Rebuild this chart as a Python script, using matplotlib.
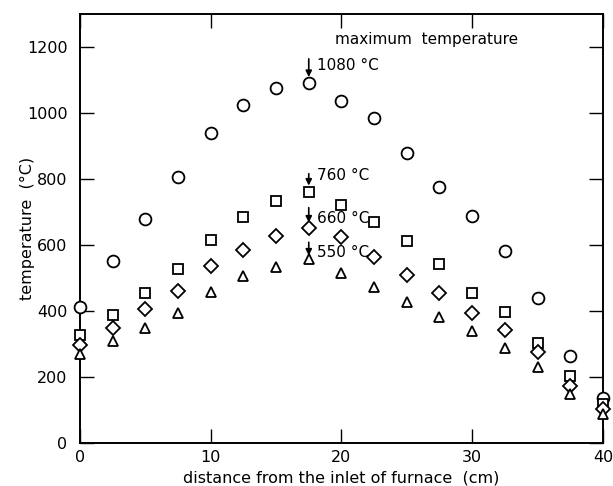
import matplotlib
matplotlib.use("Agg")
import matplotlib.pyplot as plt

# distance from furnace inlet (cm)
distance = [0, 2.5, 5, 7.5, 10, 12.5, 15, 17.5, 20, 22.5, 25, 27.5, 30, 32.5, 35, 37.5, 40]

# temperature profiles (deg C) for four maximum temperatures
temp_1080 = [411, 551, 679, 807, 938, 1024, 1075, 1092, 1037, 984, 878, 775, 687, 581, 440, 263, 135]
temp_760 = [326, 389, 454, 528, 616, 686, 734, 760, 722, 671, 611, 543, 454, 397, 304, 202, 118]
temp_660 = [296, 347, 405, 462, 535, 585, 628, 651, 623, 563, 508, 454, 394, 341, 276, 173, 102]
temp_550 = [269, 310, 348, 394, 457, 505, 533, 558, 516, 473, 427, 382, 339, 289, 231, 148, 87]

peak_labels = ["1080 °C", "760 °C", "660 °C", "550 °C"]
label_y = [1143, 810, 680, 577]
arrow_tail = [1164, 816, 713, 608]
arrow_tip = [1109, 780, 668, 568]
peak_x = 17.5

fig = plt.figure(figsize=(6.13, 4.86), dpi=100)
ax = fig.add_axes([0.1305, 0.0885, 0.853, 0.8827])

series = [(temp_1080, "o", 8.5), (temp_760, "s", 7.5), (temp_660, "D", 6.8), (temp_550, "^", 7.5)]
for vals, mk, ms in series:
    ax.plot(distance, vals, linestyle="none", marker=mk, markersize=ms,
            markerfacecolor="white", markeredgecolor="black", markeredgewidth=1.3,
            clip_on=False, zorder=5)

for lab, ly, tail, tip in zip(peak_labels, label_y, arrow_tail, arrow_tip):
    ax.annotate("", xy=(peak_x, tip), xytext=(peak_x, tail),
                arrowprops=dict(arrowstyle="-|>", color="black", lw=1.2,
                                mutation_scale=9, shrinkA=0, shrinkB=0), zorder=6)
    ax.text(peak_x + 0.65, ly, lab, fontsize=11, ha="left", va="center")

ax.text(19.5, 1224, "maximum  temperature", fontsize=11, ha="left", va="center")

ax.set_xlim(0, 40)
ax.set_ylim(0, 1300)
ax.set_xticks([0, 10, 20, 30, 40])
ax.set_yticks([0, 200, 400, 600, 800, 1000, 1200])
ax.tick_params(direction="in", length=10, width=1, labelsize=11.5,
               top=True, right=True)
ax.tick_params(axis="y", pad=9)
ax.tick_params(axis="x", pad=5)
for sp in ax.spines.values():
    sp.set_linewidth(1.4)

ax.set_xlabel("distance from the inlet of furnace  (cm)", fontsize=11.5, labelpad=4)
ax.set_ylabel("temperature  (°C)", fontsize=11.5, labelpad=-6)

fig.savefig("out.png", dpi=100)
